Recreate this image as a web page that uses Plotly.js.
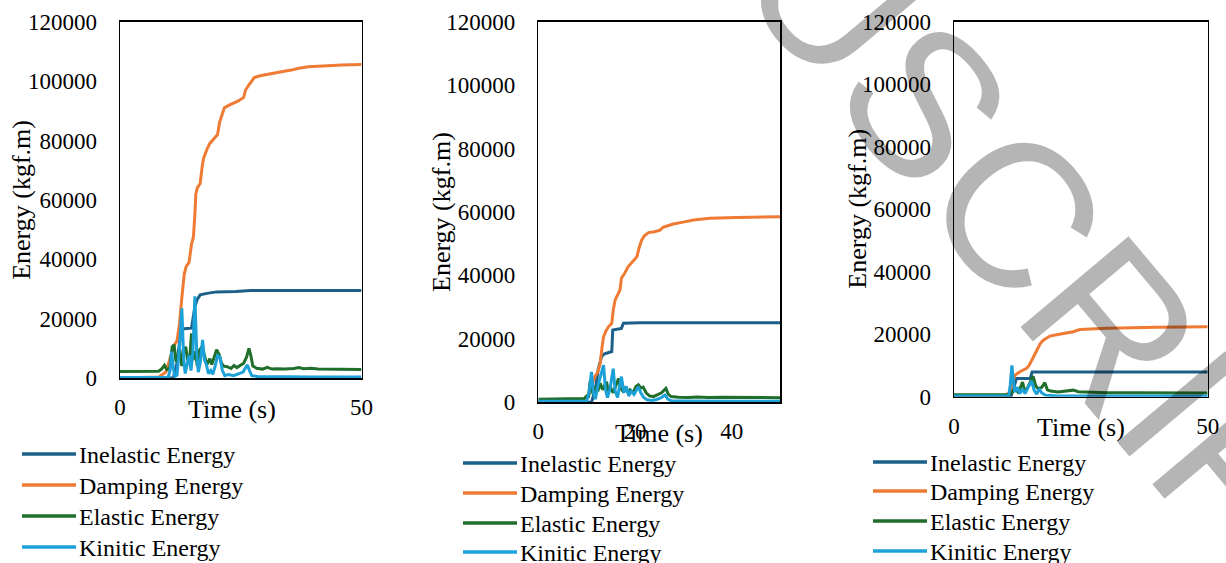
<!DOCTYPE html>
<html>
<head>
<meta charset="utf-8">
<script src="https://cdn.plot.ly/plotly-3.0.1.min.js"></script>
<style>html,body{margin:0;padding:0;background:#fff}#chart{width:1226px;height:563px}</style>
</head>
<body>
<div id="chart"></div>
<script>
// ---------- DATA ----------
const seriesNames = ['Inelastic Energy', 'Damping Energy', 'Elastic Energy', 'Kinitic Energy'];
const yTickLabels = ['0', '20000', '40000', '60000', '80000', '100000', '120000'];
const xTickLabels1 = ['0', '50'];
const xTickLabels2 = ['0', '20', '40'];
const xTickLabels3 = ['0', '50'];

// Panel 1
const p1_inel_t = [0,11,11.6,12.2,12.7,14.8,15.1,15.5,16,16.6,18,20,24,26.5,27,50];
const p1_inel_e = [0,0,3000,10000,16500,16800,20000,24000,26500,28000,28500,29000,29100,29300,29500,29500];
const p1_damp_t = [0,8,9.5,10.5,11.2,11.8,12.3,12.8,13.3,13.7,14.3,14.8,15.2,15.5,15.7,16.0,16.6,17.0,17.3,18.0,18.6,19.4,20.2,20.6,21.2,21.6,22.5,23.5,24.5,25.6,26.0,26.6,27.2,27.8,29,30.5,32.5,34,35.5,37,39,42,46,50];
const p1_damp_e = [0,300,2000,7000,11000,12500,18000,27000,35000,37500,39000,45000,47500,55000,62000,64000,65500,71000,74000,77000,79000,80500,82000,86000,89500,91000,91800,92500,93300,94500,97000,98500,100000,101200,101800,102300,103000,103300,103700,104300,104800,105100,105400,105600];
const p1_elas_t = [0,7,8.0,8.6,9.2,9.7,10.3,10.8,11.2,11.6,12.0,12.4,12.8,13.2,13.6,14.0,14.5,14.8,15.1,15.6,16.0,16.5,17.0,17.5,18.0,18.6,19.0,19.5,20.0,20.5,21.0,21.5,22.2,23.0,23.6,24.2,25,25.6,26.2,26.7,27.1,27.5,28.3,29.5,30.5,31.5,32.5,34,36,37,38,39.5,41,45,50];
const p1_elas_e = [2200,2200,2300,3000,4300,2800,3200,10500,11200,5500,8000,9500,4000,9000,10500,6000,8000,15000,6000,9000,4000,9500,10500,7000,4500,6500,4500,7000,9500,8000,5000,4000,3800,3200,4200,3500,4500,5000,7000,10000,7500,4000,3300,3000,3600,3000,3100,3000,3200,3500,3100,3300,3000,3000,2900];
const p1_kin_t = [0,10,10.4,10.7,11.0,11.3,11.8,12.3,12.8,13.2,13.5,13.9,14.3,14.7,15.1,15.5,15.9,16.2,16.6,17.1,17.5,17.9,18.3,18.8,19.2,19.7,20.2,20.7,21.2,21.7,22.5,23.5,24.5,25.5,26.0,26.4,26.8,27.3,28.5,32,40,50];
const p1_kin_e = [200,200,3000,8900,4000,500,1000,10000,23500,6000,1500,5000,7700,2500,9000,27500,8000,2000,5000,12800,6000,4500,1500,2500,1200,4000,7500,7000,2500,800,1200,800,1300,2000,3500,4400,2500,800,500,400,300,300];

// Panel 2
const p2_inel_t = [0,11,11.8,12.4,13.1,13.6,15.2,15.4,17.2,17.6,21,50];
const p2_inel_e = [0,0,4000,10500,14400,15200,16000,22800,23300,24900,25100,25100];
const p2_damp_t = [0,9,10.5,11.2,11.7,12.3,12.8,13.2,13.5,14.0,14.5,15.2,15.5,15.9,16.5,16.9,17.2,17.8,18.6,19.5,20.4,20.9,21.4,22.0,22.8,24,25.2,25.8,26.6,27.9,30,32.1,35.5,41,50];
const p2_damp_e = [0,300,2500,6000,8100,9500,12300,17500,20700,22500,23800,24900,29000,32300,34000,35400,39100,40500,42800,44300,45900,49000,51200,52600,53500,53800,54300,55200,55600,56200,56800,57500,58000,58300,58500];
const p2_elas_t = [0,8,9.5,10.0,10.4,10.7,11.0,11.4,11.8,12.3,12.8,13.3,13.7,14.1,14.5,15.0,15.5,16.0,16.6,17.0,17.5,18.0,18.6,19.0,19.6,20.2,20.7,21.2,21.7,22.3,23.0,23.8,24.5,25.5,26.0,26.4,26.9,27.5,29,31,33,35,38,42,46,50];
const p2_elas_e = [1000,1000,1200,2000,1500,6500,4000,2500,5000,3500,6000,4000,5500,6500,3500,4500,3000,5000,7500,4500,3500,4500,3000,3900,3000,5000,5500,4500,4800,3000,2000,1800,2200,3000,3800,4400,2500,1800,1600,1500,1700,1500,1600,1500,1500,1450];
const p2_kin_t = [0,10,10.5,11.0,11.4,11.8,12.3,12.8,13.5,13.9,14.3,14.8,15.5,15.9,16.4,16.8,17.2,17.7,18.2,18.7,19.2,19.8,20.3,20.7,21.2,21.8,22.5,23.5,24.5,25.5,26.2,26.8,27.5,30,40,50];
const p2_kin_e = [300,300,3000,9600,3000,1000,5000,8000,11700,4000,1500,4000,10600,3500,1500,5000,8100,3000,5000,2000,3500,2500,4000,4900,3000,1500,800,600,900,1500,2300,1000,500,400,300,300];

// Panel 3
const p3_inel_t = [0,11.2,11.8,12.3,15.0,15.4,50];
const p3_inel_e = [0,0,3000,5800,5800,7900,7900];
const p3_damp_t = [0,10,11,11.6,12.0,13.0,14.3,14.8,15.3,16.3,17.0,17.6,18.9,20.5,22.2,23.5,24.8,27,30.1,40,50];
const p3_damp_e = [0,200,1500,5000,6900,8000,9100,10000,11700,14900,17000,18100,19400,19900,20300,20800,21500,21700,21900,22200,22400];
const p3_elas_t = [0,10,11.0,11.5,12.0,12.6,13.0,13.5,13.9,14.4,15.0,15.6,16.1,16.6,17.3,17.9,18.4,19,20.5,22,23.5,24.5,27,30,35,40,50];
const p3_elas_e = [600,600,700,1500,2500,1500,2500,4700,2000,2500,4500,6600,3500,2500,3000,4500,2200,1800,1500,1800,2100,1600,1400,1300,1300,1200,1200];
const p3_kin_t = [0,10.8,11.1,11.4,11.7,12.0,12.5,13.0,13.5,14.0,14.6,15.3,15.8,16.3,16.8,17.3,18,20,30,50];
const p3_kin_e = [200,200,4000,10000,5000,1500,3000,1000,2500,1000,3000,5000,2000,800,2500,1200,500,300,200,200];

// Watermark (visible part of the page watermark)
const watermarkText = 'USCRIPT';

// ---------- STYLE / LAYOUT ----------
const W = 1226, H = 563;
const colors = ['#1c5f88', '#ef7a33', '#1f6e2b', '#1ba0d8'];
const FONT = 'Liberation Serif, Times New Roman, serif';
const tickSize = 23, titleSize = 26, legendSize = 24;

// plot boxes in pixels: [left, right, top, bottom]
const boxes = [[120, 361.5, 21.7, 378], [538.3, 780, 21.7, 402.3], [954, 1207.7, 21.7, 396.7]];
const xTicks = [xTickLabels1, xTickLabels2, xTickLabels3];
const yTitleX = [22, 441, 857.5];
const xTitleShift = [-9, 0, 0];
const legendLayout = [ {x0: 22, x1: 76, tx: 77, ys: [454, 485, 516, 547]},
                       {x0: 463, x1: 517, tx: 518, ys: [463, 493, 523, 552]},
                       {x0: 873, x1: 927, tx: 928, ys: [462, 491, 521, 551]} ];

const panels = [
  [[p1_inel_t, p1_inel_e], [p1_damp_t, p1_damp_e], [p1_elas_t, p1_elas_e], [p1_kin_t, p1_kin_e]],
  [[p2_inel_t, p2_inel_e], [p2_damp_t, p2_damp_e], [p2_elas_t, p2_elas_e], [p2_kin_t, p2_kin_e]],
  [[p3_inel_t, p3_inel_e], [p3_damp_t, p3_damp_e], [p3_elas_t, p3_elas_e], [p3_kin_t, p3_kin_e]]
];

const traces = [];
const layout = {
  width: W, height: H, autosize: false,
  margin: {l: 0, r: 0, t: 0, b: 0, pad: 0},
  paper_bgcolor: '#fff', plot_bgcolor: '#fff',
  showlegend: false,
  font: {family: FONT, color: '#000'},
  annotations: [], shapes: []
};

panels.forEach((series, p) => {
  const sfx = p === 0 ? '' : String(p + 1);
  const [l, r, t, b] = boxes[p];
  series.forEach((s, i) => {
    traces.push({
      type: 'scatter', mode: 'lines', name: seriesNames[i],
      x: s[0], y: s[1], xaxis: 'x' + sfx, yaxis: 'y' + sfx,
      line: {color: colors[i], width: 3, shape: 'linear'},
      hoverinfo: 'skip'
    });
  });
  const axCommon = {showline: true, mirror: true, linecolor: '#000', linewidth: 1.5,
    showgrid: false, zeroline: false, ticks: '', tickfont: {family: FONT, size: tickSize, color: '#000'}};
  layout['xaxis' + sfx] = Object.assign({}, axCommon, {
    domain: [l / W, r / W], anchor: 'y' + sfx, range: [0, 50],
    tickmode: 'array', tickvals: xTicks[p].map(Number), ticktext: xTicks[p],
    ticklabelstandoff: 8
  });
  layout['yaxis' + sfx] = Object.assign({}, axCommon, {
    domain: [(H - b) / H, (H - t) / H], anchor: 'x' + sfx, range: [0, 120000],
    tickmode: 'array', tickvals: yTickLabels.map(Number), ticktext: yTickLabels,
    ticklabelstandoff: 17
  });
  // axis titles
  layout.annotations.push({
    xref: 'x' + sfx + ' domain', yref: 'y' + sfx + ' domain', x: 0.5, y: 0,
    xanchor: 'center', yanchor: 'middle', xshift: xTitleShift[p], yshift: -31,
    text: 'Time (s)', showarrow: false, font: {family: FONT, size: titleSize, color: '#000'}
  });
  layout.annotations.push({
    xref: 'paper', yref: 'y' + sfx + ' domain', x: yTitleX[p] / W, y: 0.5,
    xanchor: 'center', yanchor: 'middle', textangle: -90,
    text: 'Energy (kgf.m)', showarrow: false, font: {family: FONT, size: titleSize, color: '#000'}
  });
  // legend
  const lg = legendLayout[p];
  seriesNames.forEach((nm, i) => {
    layout.shapes.push({type: 'line', xref: 'paper', yref: 'paper',
      x0: lg.x0 / W, x1: lg.x1 / W, y0: 1 - lg.ys[i] / H, y1: 1 - lg.ys[i] / H,
      line: {color: colors[i], width: 3.5}});
    layout.annotations.push({xref: 'paper', yref: 'paper', x: lg.tx / W, y: 1 - (lg.ys[i] + 1) / H,
      xanchor: 'left', yanchor: 'middle', text: nm, showarrow: false,
      font: {family: FONT, size: legendSize, color: '#000'}});
  });
});

// diagonal watermark
layout.annotations.push({xref: 'paper', yref: 'paper', x: 1076 / W, y: 1 - 281 / H,
  xanchor: 'center', yanchor: 'middle', textangle: 50, text: watermarkText, showarrow: false,
  font: {family: 'Liberation Sans, Arial, sans-serif', size: 205, color: 'rgba(0,0,0,0.29)'}});

Plotly.newPlot('chart', traces, layout, {staticPlot: true, displayModeBar: false});
</script>
</body>
</html>
